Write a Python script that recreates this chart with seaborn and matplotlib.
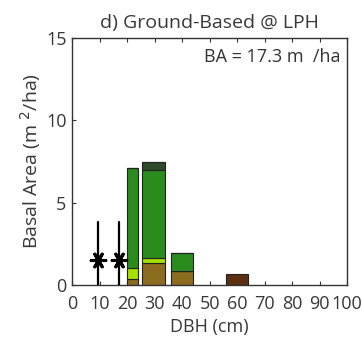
import matplotlib
matplotlib.use("Agg")
import matplotlib.pyplot as plt
import seaborn as sns
import numpy as np

# Data
bar_centers = [22, 29.5, 40, 60]
bar_widths = [4, 8.5, 8, 8]
olive = [0.36, 1.32, 0.87, 0.0]
light_green = [0.64, 0.30, 0.0, 0.0]
green = [6.09, 5.36, 1.09, 0.0]
dark_green = [0.0, 0.51, 0.0, 0.0]
brown = [0.0, 0.0, 0.0, 0.67]
star_x = [9.6, 17.2]
star_y = [1.5, 1.5]
star_top = [3.85, 3.85]
xticks = list(range(0, 101, 10))
yticks = [0, 5, 10, 15]

sns.set_theme(style="ticks")
plt.rcParams['font.family'] = ["Open Sans", "DejaVu Sans"]

fig = plt.figure(figsize=(3.62, 3.4), dpi=100)
ax = fig.add_axes([0.199, 0.162, 0.760, 0.726])

layers = [(olive, "#8c6d1f"), (light_green, "#a6e000"), (green, "#2b8c1e"),
          (dark_green, "#2e4a2a"), (brown, "#5a3010")]
bottom = np.zeros(len(bar_centers))
for vals, col in layers:
    v = np.array(vals)
    ax.bar(bar_centers, v, width=bar_widths, bottom=bottom, color=col,
           edgecolor="#222222", linewidth=0.8, align="center")
    bottom += v

for x, t in zip(star_x, star_top):
    ax.plot([x, x], [0, t], color="black", lw=1.6)
sns.scatterplot(x=star_x, y=star_y, marker=(6, 2, 90), s=110, color="black",
                edgecolor="black", linewidth=2.2, ax=ax, zorder=5)

ax.set_xlim(0, 100)
ax.set_ylim(0, 15)
ax.set_xticks(xticks)
ax.set_yticks(yticks)
ax.tick_params(axis="both", direction="in", length=3, width=0.8, top=True, right=False,
               labelsize=13, colors="#333333")
ax.tick_params(axis="x", labelcolor="#383838", pad=7)
ax.tick_params(axis="y", labelcolor="#383838", pad=4)
for s in ax.spines.values():
    s.set_color("#333333")
    s.set_linewidth(1.0)

ax.set_xlabel("DBH (cm)", fontsize=13, color="#383838", labelpad=4)
ax.set_ylabel("Basal Area (m $^2$/ha)", fontsize=14, color="#383838", labelpad=2)
ax.set_title("d) Ground-Based @ LPH", fontsize=14, color="#383838", pad=7)
ax.text(0.975, 0.922, "BA = 17.3 m  /ha", transform=ax.transAxes, ha="right",
        va="center", fontsize=13, color="#333333")

fig.savefig("out.png", dpi=100)
